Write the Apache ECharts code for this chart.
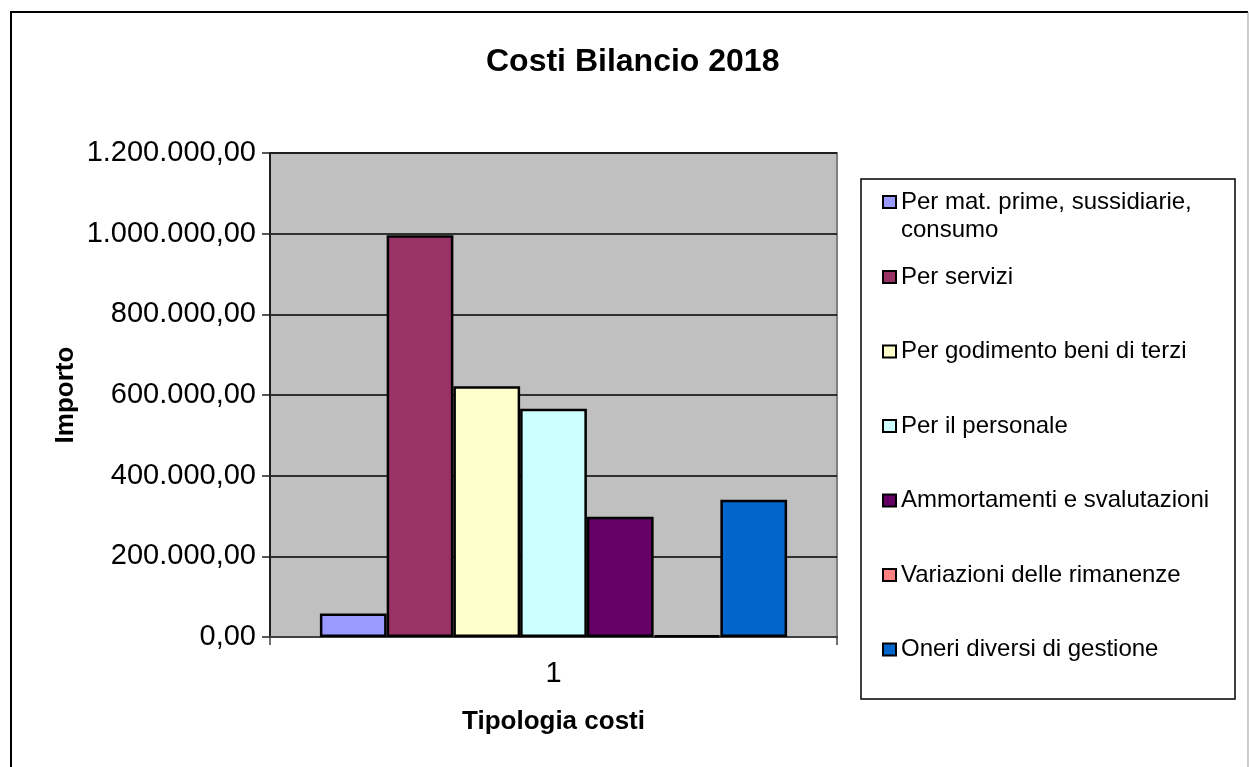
<!DOCTYPE html>
<html>
<head>
<meta charset="utf-8">
<title>Costi Bilancio 2018</title>
<script src="https://cdn.jsdelivr.net/npm/echarts@6/dist/echarts.min.js"></script>
<style>
  html, body { margin: 0; padding: 0; background: #fff; }
  #chart { width: 1249px; height: 767px; }
</style>
</head>
<body>
<div id="chart"></div>
<script>
const categories = ["1"];
const seriesNames = [
  "Per mat. prime, sussidiarie,\nconsumo",
  "Per servizi",
  "Per godimento beni di terzi",
  "Per il personale",
  "Ammortamenti e svalutazioni",
  "Variazioni delle rimanenze",
  "Oneri diversi di gestione",
];
const seriesValues = [58000, 996000, 622000, 566000, 298000, 4000, 340000];
const seriesColors = ["#9999FF", "#993366", "#FFFFCC", "#CCFFFF", "#660066", "#FF8080", "#0066CC"];
const yTicks = [0, 200000, 400000, 600000, 800000, 1000000, 1200000];

const FONT = "'Liberation Sans', Arial, sans-serif";

// 1200000 -> "1.200.000,00"
function formatIt(v) {
  const s = String(Math.round(v));
  return s.replace(/\B(?=(\d{3})+(?!\d))/g, ".") + ",00";
}

const chart = echarts.init(document.getElementById("chart"));

const legendText = { fontSize: 24, lineHeight: 28, color: "#000", fontFamily: FONT };

const option = {
  backgroundColor: "#fff",
  animation: false,
  textStyle: { fontFamily: FONT },
  title: {
    text: "Costi Bilancio 2018",
    left: 486,
    top: 46,
    padding: 0,
    textStyle: { fontSize: 32, fontWeight: "bold", color: "#000", fontFamily: FONT },
  },
  graphic: [
    {
      type: "polyline",
      shape: { points: [[11, 800], [11, 12], [1248, 12]] },
      style: { stroke: "#000", lineWidth: 2, fill: null },
    },
    {
      type: "line",
      shape: { x1: 1248, y1: 12, x2: 1248, y2: 800 },
      style: { stroke: "#999", lineWidth: 1 },
    },
    {
      type: "rect",
      shape: { x: 861, y: 179, width: 374, height: 520 },
      style: { stroke: "#000", lineWidth: 1.5, fill: "#fff" },
      z: 0,
    },
  ],
  legend: [
    {
      // first entry wraps on two lines, icon lines up with the first one
      data: [seriesNames[0]],
      formatter: (name) => " \n" + name,
      orient: "vertical",
      left: 882,
      top: 160,
      padding: 0,
      icon: "rect",
      itemWidth: 13,
      itemHeight: 12,
      itemGap: 0,
      itemStyle: { borderColor: "#000", borderWidth: 2 },
      textStyle: legendText,
      selectedMode: false,
    },
    {
      data: seriesNames.slice(1),
      orient: "vertical",
      left: 882,
      top: 263,
      padding: 0,
      icon: "rect",
      itemWidth: 13,
      itemHeight: 12,
      itemGap: 46.5,
      itemStyle: { borderColor: "#000", borderWidth: 2 },
      textStyle: legendText,
      selectedMode: false,
    },
  ],
  grid: {
    left: 270,
    top: 153,
    right: 412,
    bottom: 130,
    show: true,
    backgroundColor: "#C0C0C0",
    borderColor: "#808080",
    borderWidth: 2,
    containLabel: false,
  },
  xAxis: {
    type: "category",
    data: categories,
    name: "Tipologia costi",
    nameLocation: "middle",
    nameGap: 72,
    nameTextStyle: { fontSize: 26, fontWeight: "bold", color: "#000", fontFamily: FONT },
    axisLine: { lineStyle: { color: "#404040", width: 2 } },
    axisTick: { show: true, length: 8, lineStyle: { color: "#404040", width: 1.5 } },
    axisLabel: { fontSize: 29, color: "#000", margin: 22, fontFamily: FONT },
  },
  yAxis: {
    type: "value",
    min: yTicks[0],
    max: yTicks[yTicks.length - 1],
    interval: yTicks[1] - yTicks[0],
    name: "Importo",
    nameLocation: "middle",
    nameRotate: 90,
    nameGap: 191,
    nameTextStyle: { fontSize: 26, fontWeight: "bold", color: "#000", fontFamily: FONT },
    axisLine: { show: true, lineStyle: { color: "#202020", width: 2 } },
    axisTick: { show: true, length: 8, lineStyle: { color: "#202020", width: 1.5 } },
    axisLabel: { fontSize: 29, color: "#000", margin: 14, fontFamily: FONT, formatter: formatIt },
    splitLine: { show: true, lineStyle: { color: "#000", width: 1.5 } },
  },
  series: seriesNames.map((name, i) => ({
    name: name,
    type: "bar",
    data: [seriesValues[i]],
    barGap: "0%",
    barCategoryGap: "17.6%",
    itemStyle: { color: seriesColors[i], borderColor: "#000", borderWidth: 2.5 },
  })),
};

chart.setOption(option);
</script>
</body>
</html>
